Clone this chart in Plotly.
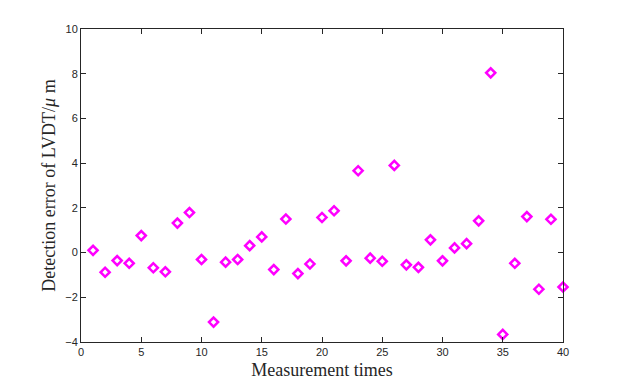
import plotly.graph_objects as go

# measurement index and LVDT detection error (um)
times = list(range(1, 41))
errors = [0.10, -0.88, -0.36, -0.48, 0.76, -0.68, -0.86, 1.32, 1.79, -0.31,
          -3.11, -0.43, -0.31, 0.31, 0.70, -0.76, 1.50, -0.94, -0.51, 1.57,
          1.87, -0.37, 3.66, -0.25, -0.39, 3.90, -0.55, -0.66, 0.57, -0.37,
          0.21, 0.40, 1.42, 8.04, -3.66, -0.48, 1.61, -1.64, 1.49, -1.54]

x_ticks = [0, 5, 10, 15, 20, 25, 30, 35, 40]
y_ticks = [-4, -2, 0, 2, 4, 6, 8, 10]

fig = go.Figure()
fig.add_trace(go.Scatter(
    x=times, y=errors, mode="markers",
    marker=dict(symbol="diamond-open", size=7, color="#ff00ff",
                line=dict(width=2.5, color="#ff00ff")),
    showlegend=False, cliponaxis=False))

axis_common = dict(showline=True, linecolor="#262626", linewidth=1, mirror="ticks",
                   ticks="inside", ticklen=5, tickcolor="#262626",
                   showgrid=False, zeroline=False, automargin=False,
                   tickfont=dict(family="Liberation Sans, Arial", size=11, color="#262626"))

fig.update_xaxes(range=[0, 40], tickvals=x_ticks,
                 title=dict(text="Measurement times", standoff=6,
                            font=dict(family="Liberation Serif, Times New Roman", size=18, color="#262626")),
                 **axis_common)
fig.update_yaxes(range=[-4, 10], tickvals=y_ticks,
                 title=dict(text="Detection error of LVDT/<i>μ</i> m", standoff=4,
                            font=dict(family="Liberation Serif, Times New Roman", size=18, color="#262626")),
                 **axis_common)

# page body adds 8px margin, so the figure is shrunk to compensate
fig.update_layout(width=615, height=376, plot_bgcolor="white", paper_bgcolor="white",
                  margin=dict(l=73, r=60, t=21, b=42))

fig.write_html("out.html")
